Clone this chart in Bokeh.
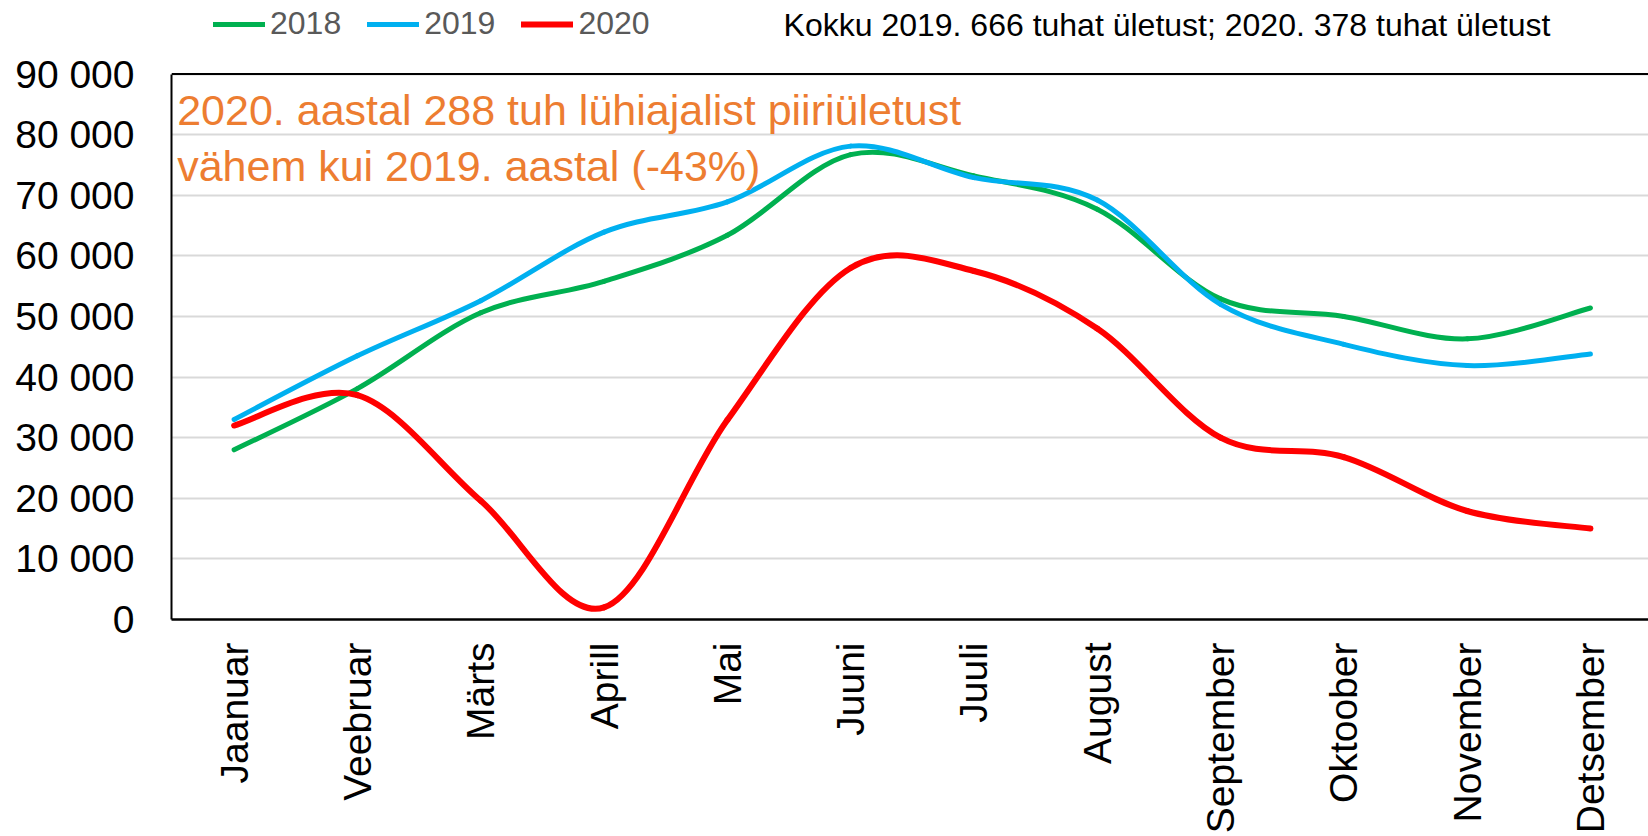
from bokeh.plotting import figure
from bokeh.models import FixedTicker, Legend, LegendItem, Label, Span
from bokeh.embed import file_html
from bokeh.resources import INLINE
import math

# ---------------- data ----------------
months = ["Jaanuar", "Veebruar", "Märts", "Aprill", "Mai", "Juuni",
          "Juuli", "August", "September", "Oktoober", "November", "Detsember"]
y2018 = [28000, 38100, 50600, 55800, 63400, 76700, 73200, 67700, 52900, 50000, 46300, 51400]
y2019 = [33000, 43500, 52600, 63900, 68900, 78100, 72900, 69200, 52000, 45400, 41900, 43800]
y2020 = [32000, 37000, 19600, 2000, 32900, 58000, 57500, 48000, 30000, 26800, 17900, 15000]
series_names = ["2018", "2019", "2020"]
series_colors = ["#00B050", "#00B0F0", "#FF0000"]
y_ticks = [0, 10000, 20000, 30000, 40000, 50000, 60000, 70000, 80000, 90000]
y_tick_labels = ["0", "10 000", "20 000", "30 000", "40 000", "50 000",
                 "60 000", "70 000", "80 000", "90 000"]
header_text = "Kokku 2019. 666 tuhat ületust; 2020. 378 tuhat ületust"
note_lines = ["2020. aastal 288 tuh lühiajalist piiriületust",
              "vähem kui 2019. aastal (-43%)"]

FONT = "Liberation Sans"
Y_MAX = y_ticks[-1]
# frame covers the whole height above the axis; the chart box ends at Y_MAX
Y_TOP = Y_MAX * 619 / 545.5

p = figure(width=1648, height=836, output_backend="svg", toolbar_location=None,
           x_range=(-0.508, 11.471), y_range=(0, Y_TOP),
           min_border_left=171, min_border_top=0, min_border_right=0, min_border_bottom=217)
p.background_fill_color = "white"
p.border_fill_color = "white"
p.outline_line_color = None

xs = list(range(len(months)))


def smooth_segments(xv, yv):
    n = len(xv)
    x0, y0, x1, y1, cx0, cy0, cx1, cy1 = [], [], [], [], [], [], [], []
    for i in range(n - 1):
        im1 = max(i - 1, 0)
        ip2 = min(i + 2, n - 1)
        x0.append(xv[i]); y0.append(yv[i])
        x1.append(xv[i + 1]); y1.append(yv[i + 1])
        cx0.append(xv[i] + (xv[i + 1] - xv[im1]) / 6.0)
        cy0.append(yv[i] + (yv[i + 1] - yv[im1]) / 6.0)
        cx1.append(xv[i + 1] - (xv[ip2] - xv[i]) / 6.0)
        cy1.append(yv[i + 1] - (yv[ip2] - yv[i]) / 6.0)
    return dict(x0=x0, y0=y0, x1=x1, y1=y1, cx0=cx0, cy0=cy0, cx1=cx1, cy1=cy1)


# top border of the chart box
p.add_layout(Span(location=Y_MAX, dimension="width", line_color="black", line_width=2))

widths = [5, 5, 6]
renderers = []
for name, ys, col, lw in zip(series_names, [y2018, y2019, y2020], series_colors, widths):
    seg = smooth_segments(xs, ys)
    r = p.bezier(x0=seg["x0"], y0=seg["y0"], x1=seg["x1"], y1=seg["y1"],
                 cx0=seg["cx0"], cy0=seg["cy0"], cx1=seg["cx1"], cy1=seg["cy1"],
                 line_color=col, line_width=lw, line_cap="round")
    renderers.append(r)

# axes
p.xaxis.ticker = FixedTicker(ticks=xs)
p.xaxis.major_label_overrides = {i: m for i, m in zip(xs, months)}
p.xaxis.major_label_orientation = math.pi / 2
p.xaxis.major_label_text_font = FONT
p.xaxis.major_label_text_font_size = "39px"
p.xaxis.major_label_text_color = "black"
p.xaxis.major_label_standoff = 17
p.xaxis.major_tick_line_color = None
p.xaxis.minor_tick_line_color = None
p.xaxis.axis_line_color = "black"
p.xaxis.axis_line_width = 2.5

p.yaxis.ticker = FixedTicker(ticks=y_ticks)
p.yaxis.bounds = (0, Y_MAX)
p.yaxis.major_label_overrides = {t: l for t, l in zip(y_ticks, y_tick_labels)}
p.yaxis.major_label_text_font = FONT
p.yaxis.major_label_text_font_size = "39px"
p.yaxis.major_label_text_color = "black"
p.yaxis.major_label_standoff = 31
p.yaxis.major_tick_line_color = None
p.yaxis.minor_tick_line_color = None
p.yaxis.axis_line_color = "black"
p.yaxis.axis_line_width = 2

p.xgrid.grid_line_color = None
p.ygrid.grid_line_color = "#D9D9D9"
p.ygrid.grid_line_width = 2

# legend at the top
legend = Legend(items=[LegendItem(label=n, renderers=[r]) for n, r in zip(series_names, renderers)],
                location=(42, 577), orientation="horizontal",
                label_text_font=FONT, label_text_font_size="32px", label_text_color="#595959",
                glyph_width=52, glyph_height=36, label_height=36, label_standoff=5,
                spacing=26, padding=0, margin=0,
                border_line_alpha=0, background_fill_alpha=0)
p.add_layout(legend)

# header text
p.add_layout(Label(x=4.456, y=Y_MAX * (619 - 24) / 545.5, text=header_text, text_baseline="middle",
                   text_font=FONT, text_font_size="32px", text_color="black"))

# orange note
for txt, yy in zip(note_lines, [84000, 74900]):
    p.add_layout(Label(x=-0.462, y=yy, text=txt, text_baseline="middle",
                       text_font=FONT, text_font_size="43px", text_color="#ED7D31"))

open("out.html", "w").write(file_html(p, INLINE))
